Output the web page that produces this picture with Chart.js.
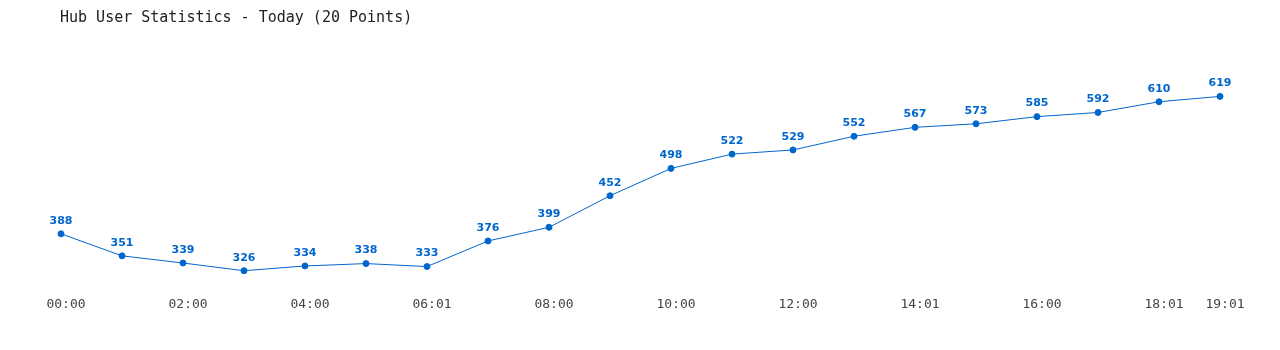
<!DOCTYPE html>
<html><head><meta charset="utf-8">
<script src="https://cdn.jsdelivr.net/npm/chart.js@4"></script>
<style>html,body{margin:0;padding:0;background:#fff;}#wrap{width:1280px;height:350px;}</style>
</head><body><div id="wrap"><canvas id="c" width="1280" height="350"></canvas></div>
<script>
const titleText = "Hub User Statistics - Today (20 Points)";
const categories = ["00:00","01:00","02:00","03:00","04:00","05:00","06:01","07:00","08:00","09:00","10:00","11:00","12:00","13:00","14:01","15:00","16:00","17:00","18:01","19:01"];
const users = [388,351,339,326,334,338,333,376,399,452,498,522,529,552,567,573,585,592,610,619];

const lineColor = "#0066cc";

const labelPlugin = {
  id: "pointLabels",
  afterDatasetsDraw(chart) {
    const ctx = chart.ctx;
    const meta = chart.getDatasetMeta(0);
    ctx.save();
    ctx.font = "bold 11px 'DejaVu Sans', Verdana, sans-serif";
    ctx.fillStyle = lineColor;
    ctx.textAlign = "center";
    ctx.textBaseline = "middle";
    meta.data.forEach((pt, i) => {
      ctx.fillText(String(users[i]), pt.x, pt.y - 13);
    });
    ctx.restore();
  }
};
const titlePlugin = {
  id: "leftTitle",
  afterDraw(chart) {
    const ctx = chart.ctx;
    ctx.save();
    ctx.font = "15px 'DejaVu Sans Mono', monospace";
    ctx.fillStyle = "#222";
    ctx.textAlign = "left";
    ctx.textBaseline = "middle";
    ctx.fillText(titleText, 60, 18);
    ctx.restore();
  }
};

new Chart(document.getElementById("c"), {
  type: "line",
  data: {
    labels: categories,
    datasets: [{
      data: users,
      borderColor: lineColor,
      backgroundColor: lineColor,
      borderWidth: 1,
      pointRadius: 3,
      pointHoverRadius: 3,
      pointBackgroundColor: lineColor,
      pointBorderColor: lineColor,
      tension: 0,
      fill: false,
      clip: false
    }]
  },
  options: {
    responsive: false,
    animation: false,
    events: [],
    layout: { padding: { left: 61, right: 60, top: 40, bottom: 31 } },
    plugins: { legend: { display: false }, tooltip: { enabled: false }, title: { display: false } },
    scales: {
      y: { display: false, min: 294.6, max: 713.8 },
      x: {
        offset: false,
        grid: { display: false, drawTicks: false },
        border: { display: false },
        ticks: {
          autoSkip: false,
          maxRotation: 0,
          padding: 7,
          labelOffset: 5,
          color: "#444",
          font: { family: "'DejaVu Sans Mono', monospace", size: 13 },
          callback: function(v, i) { return (i % 2 === 0 || i === categories.length - 1) ? categories[i] : ""; }
        }
      }
    }
  },
  plugins: [labelPlugin, titlePlugin]
});
</script></body></html>
